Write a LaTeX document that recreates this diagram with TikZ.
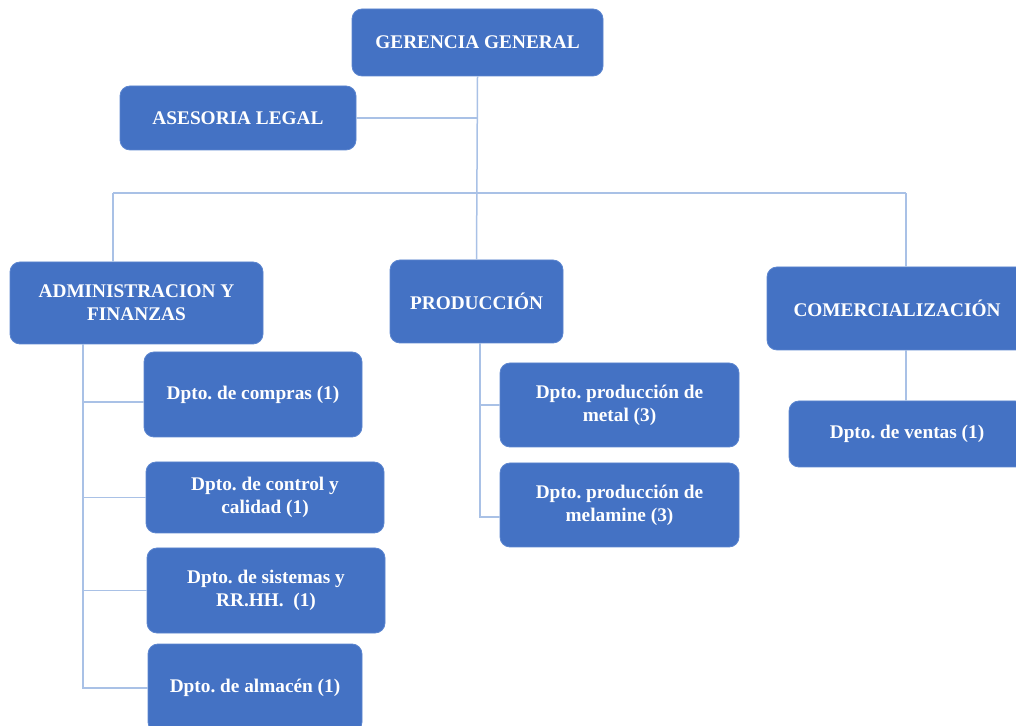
\documentclass[tikz,border=0pt]{standalone}
\usepackage{fontspec}
\setmainfont{Liberation Serif}
\frenchspacing
\definecolor{boxblue}{HTML}{4472C4}
\definecolor{boxedge}{HTML}{5B85CF}
\definecolor{linkblue}{HTML}{A9C1E6}
\begin{document}
\begin{tikzpicture}[x=1pt,y=1pt,
  box/.style={draw=boxedge,line width=0.8pt,fill=boxblue,rounded corners=10pt,text=white,
    font=\bfseries\fontsize{19.3}{23}\selectfont,align=center,inner sep=0pt},
  link/.style={draw=linkblue,line width=1.5pt}]
\useasboundingbox (0,0) rectangle (1016,725);
% connectors' free ends
\coordinate (busL) at (113,532);
\coordinate (busR) at (906,532);
\coordinate (admLine) at (83,381);
\coordinate (proLine) at (480,382);
\coordinate (comLine) at (906,375);
% nodes
\node[box,minimum width=251pt,minimum height=67pt] (ger) at (477.5,682.5) {GERENCIA GENERAL};
\node[box,minimum width=236pt,minimum height=64pt] (ase) at (238,607) {ASESORIA LEGAL};
\node[box,minimum width=253pt,minimum height=82pt] (adm) at (136.5,422) {ADMINISTRACION Y\\FINANZAS};
\node[box,minimum width=173pt,minimum height=83pt] (pro) at (476.5,423.5) {PRODUCCIÓN};
\node[box,minimum width=260pt,minimum height=83pt] (com) at (897,416.5) {COMERCIALIZACIÓN};
\node[box,minimum width=236pt,minimum height=66pt] (ven) at (907,291) {Dpto. de ventas (1)};
\node[box,minimum width=218pt,minimum height=85pt] (cmp) at (253,330.5) {Dpto. de compras (1)};
\node[box,minimum width=238pt,minimum height=71pt] (ctl) at (265,227.5) {Dpto. de control y\\calidad (1)};
\node[box,minimum width=238pt,minimum height=85pt] (sis) at (266,134.5) {Dpto. de sistemas y\\RR.HH.\ \ (1)};
\node[box,minimum width=214pt,minimum height=88pt] (alm) at (255,37) {Dpto. de almacén (1)};
\node[box,minimum width=239pt,minimum height=84pt] (met) at (619.5,320) {Dpto. producción de\\metal (3)};
\node[box,minimum width=239pt,minimum height=84pt] (mel) at (619.5,220) {Dpto. producción de\\melamine (3)};
% connectors
\draw[link] (ger.south) -- (pro.north);
\draw[link] (ase.east) -- (ase.east -| ger.south);
\draw[link] (busL) -- (busR);
\draw[link] (busL) -- (busL |- adm.north);
\draw[link] (busR) -- (busR |- com.north);
\draw[link] (comLine) -- (comLine |- ven.north);
\draw[link] (admLine) |- ([yshift=-7.5pt]cmp.west);
\draw[link] (admLine) |- (ctl.west);
\draw[link] (admLine) |- (sis.west);
\draw[link] (admLine) |- (alm.west);
\draw[link] (proLine) |- (met.west);
\draw[link] (proLine) |- ([yshift=-12pt]mel.west);
\end{tikzpicture}
\end{document}
